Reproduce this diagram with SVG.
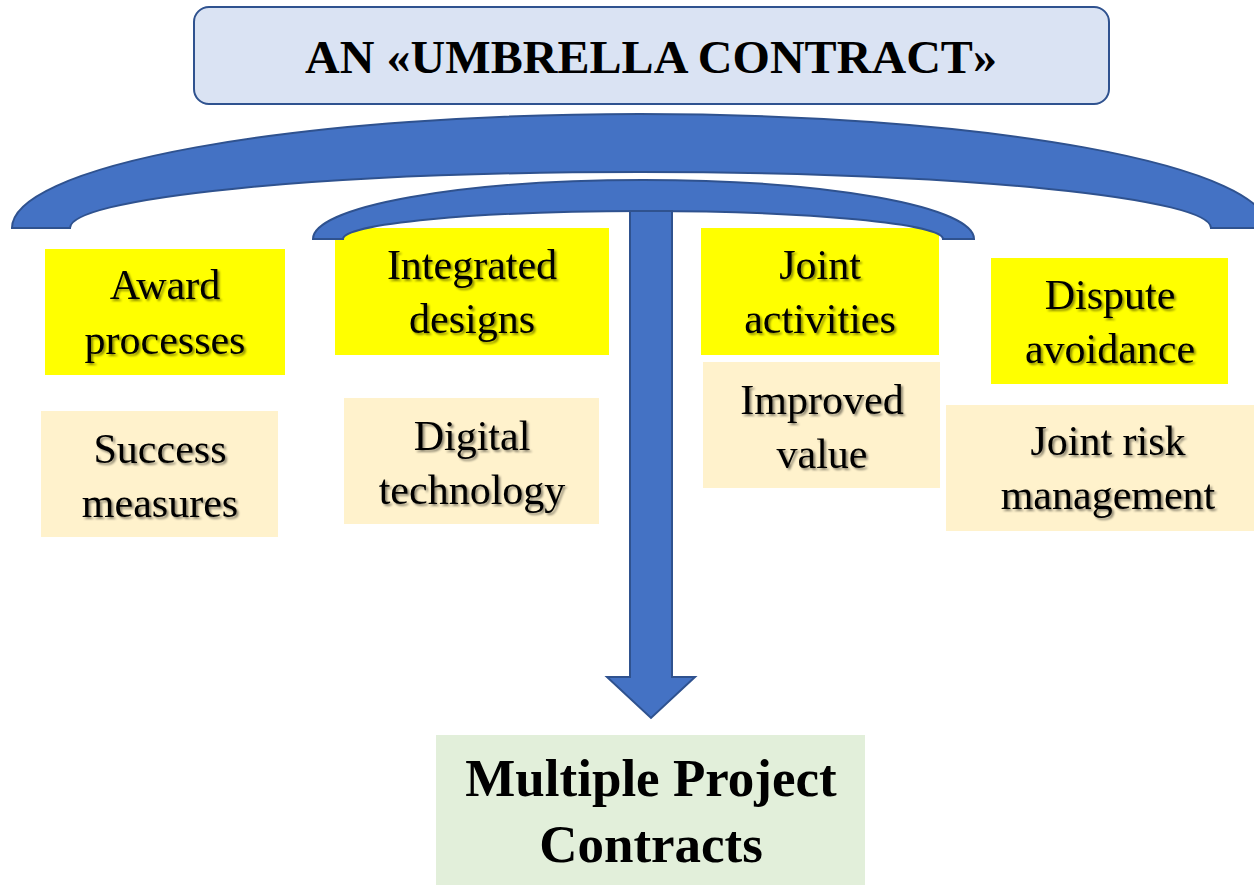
<svg xmlns="http://www.w3.org/2000/svg" width="1254" height="885" viewBox="0 0 1254 885">
  <defs>
    <filter id="sh" x="-10%" y="-20%" width="120%" height="150%">
      <feDropShadow dx="2" dy="2" stdDeviation="1.2" flood-color="#000" flood-opacity="0.45"/>
    </filter>
    <style>
      .t { font-family: "Liberation Serif", "Times New Roman", serif; font-size: 42px; fill: #000; text-anchor: middle; filter: url(#sh); }
      .yel { fill: #FFFF00; }
      .bei { fill: #FFF2CC; }
      .blue { fill: #4472C4; stroke: #2F528F; stroke-width: 2; stroke-linejoin: miter; }
      .big { font-family: "Liberation Serif", "Times New Roman", serif; font-weight: bold; fill: #000; text-anchor: middle; }
    </style>
  </defs>
  <rect width="1254" height="885" fill="#FFFFFF"/>

  <g id="title">
    <rect x="194" y="7" width="915" height="97" rx="15" ry="15" fill="#DAE3F3" stroke="#2F528F" stroke-width="2"/>
    <text class="big" x="651" y="73" font-size="46" textLength="692" lengthAdjust="spacingAndGlyphs">AN «UMBRELLA CONTRACT»</text>
  </g>

  <g id="award">
    <rect class="yel" x="45" y="249" width="240" height="126"/>
    <text class="t" x="165" y="299">Award</text>
    <text class="t" x="165" y="354">processes</text>
  </g>
  <g id="success">
    <rect class="bei" x="41" y="411" width="237" height="126"/>
    <text class="t" x="160" y="463">Success</text>
    <text class="t" x="160" y="517">measures</text>
  </g>
  <g id="integrated">
    <rect class="yel" x="335" y="228" width="274" height="127"/>
    <text class="t" x="472" y="279">Integrated</text>
    <text class="t" x="472" y="333">designs</text>
  </g>
  <g id="digital">
    <rect class="bei" x="344" y="398" width="255" height="126"/>
    <text class="t" x="472" y="450">Digital</text>
    <text class="t" x="472" y="504">technology</text>
  </g>
  <g id="joint-activities">
    <rect class="yel" x="701" y="228" width="238" height="127"/>
    <text class="t" x="820" y="279">Joint</text>
    <text class="t" x="820" y="333">activities</text>
  </g>
  <g id="improved">
    <rect class="bei" x="703" y="362" width="237" height="126"/>
    <text class="t" x="822" y="414">Improved</text>
    <text class="t" x="822" y="468">value</text>
  </g>
  <g id="dispute">
    <rect class="yel" x="991" y="258" width="237" height="126"/>
    <text class="t" x="1110" y="309">Dispute</text>
    <text class="t" x="1110" y="363">avoidance</text>
  </g>
  <g id="joint-risk">
    <rect class="bei" x="946" y="405" width="324" height="126"/>
    <text class="t" x="1108" y="455">Joint risk</text>
    <text class="t" x="1108" y="509">management</text>
  </g>

  <g id="connectors">
    <path class="blue" d="M 12 228 A 628 114 0 0 1 1268 228 L 1211 228 A 570.5 56 0 0 0 70 228 Z"/>
    <path class="blue" d="M 313 239 A 330.5 59 0 0 1 974 239 L 943 239 A 300 28 0 0 0 343 239 Z"/>
    <path class="blue" d="M 630 211 L 672 211 L 672 677 L 695 677 L 651 718 L 607 677 L 630 677 Z"/>
  </g>

  <g id="multiple">
    <rect x="436" y="735" width="429" height="150" fill="#E2EFDA"/>
    <text class="big" x="651" y="796" font-size="53">Multiple Project</text>
    <text class="big" x="651" y="862" font-size="53">Contracts</text>
  </g>
</svg>
